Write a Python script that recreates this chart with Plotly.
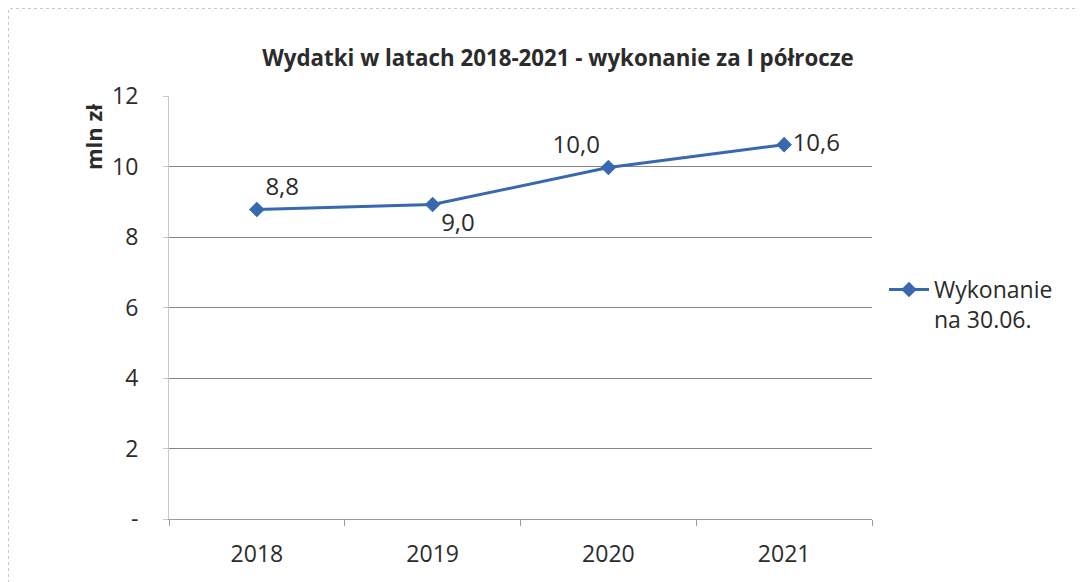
import plotly.graph_objects as go

years = ["2018", "2019", "2020", "2021"]
values = [8.78, 8.92, 9.97, 10.62]
value_labels = ["8,8", "9,0", "10,0", "10,6"]
label_positions = ["top right", "bottom right", "top left", "middle right"]
y_tickvals = [0, 2, 4, 6, 8, 10, 12]
y_ticktext = ["-", "2", "4", "6", "8", "10", "12"]
series_name = "Wykonanie<br>na 30.06."
title_text = "Wydatki w latach 2018-2021 - wykonanie za I półrocze"
y_title = "mln zł"

blue = "#3768b0"
font_family = "Open Sans, DejaVu Sans, sans-serif"
text_color = "#2b2b2b"

# page body offset of 8px in the browser; figure is sized to fill the rest
W, H = 1075, 574
L, T = 161, 88
PW, PH = 703, 423


def sx(screen_x):
    return (screen_x - 169) / PW


def sy(screen_y):
    return (519 - screen_y) / PH


fig = go.Figure()
fig.add_trace(go.Scatter(
    x=years, y=values, name=series_name,
    mode="lines+markers+text",
    line=dict(color=blue, width=3),
    marker=dict(symbol="diamond", size=12, color=blue),
    text=value_labels, textposition=label_positions,
    textfont=dict(family=font_family, size=24, color=text_color),
    cliponaxis=False,
))

fig.update_layout(
    width=W, height=H,
    margin=dict(l=L, r=W - L - PW, t=T, b=H - T - PH),
    paper_bgcolor="white", plot_bgcolor="white",
    showlegend=True,
    legend=dict(x=sx(884), y=sy(268), xanchor="left", yanchor="top",
                valign="top",
                font=dict(family=font_family, size=23, color=text_color),
                itemwidth=40, bgcolor="rgba(0,0,0,0)"),
    title=dict(text="<b>" + title_text + "</b>", x=(558 - 8) / W, xanchor="center",
               y=1 - (58 - 8) / H, yanchor="middle",
               font=dict(family=font_family, size=22.3, color=text_color)),
    xaxis=dict(type="category", range=[-0.5, 3.5], showgrid=False,
               showline=True, linecolor="#9a9a9a", linewidth=1,
               ticks="outside", tickson="boundaries", ticklen=6, tickcolor="#9a9a9a",
               ticklabelstandoff=14,
               tickfont=dict(family=font_family, size=23, color=text_color)),
    yaxis=dict(range=[0, 12], tickvals=y_tickvals, ticktext=y_ticktext,
               showgrid=True, gridcolor="#858585", gridwidth=1,
               showline=True, linecolor="#c8c8c8", linewidth=1,
               ticks="outside", ticklen=5, tickcolor="#c8c8c8",
               ticklabelstandoff=20,
               zeroline=False,
               tickfont=dict(family=font_family, size=23, color=text_color)),
)

fig.add_annotation(text="<b>" + y_title + "</b>", xref="paper", yref="paper",
                   x=sx(93), y=sy(137), textangle=-90,
                   showarrow=False, xanchor="center", yanchor="middle",
                   font=dict(family=font_family, size=22, color=text_color))

fig.add_shape(type="rect", xref="paper", yref="paper",
              x0=sx(8.5), x1=sx(1080),
              y0=sy(600), y1=sy(8.5),
              line=dict(color="#c8c8c8", width=1, dash="dot"),
              fillcolor="rgba(0,0,0,0)", layer="below")

fig.write_html("out.html")
